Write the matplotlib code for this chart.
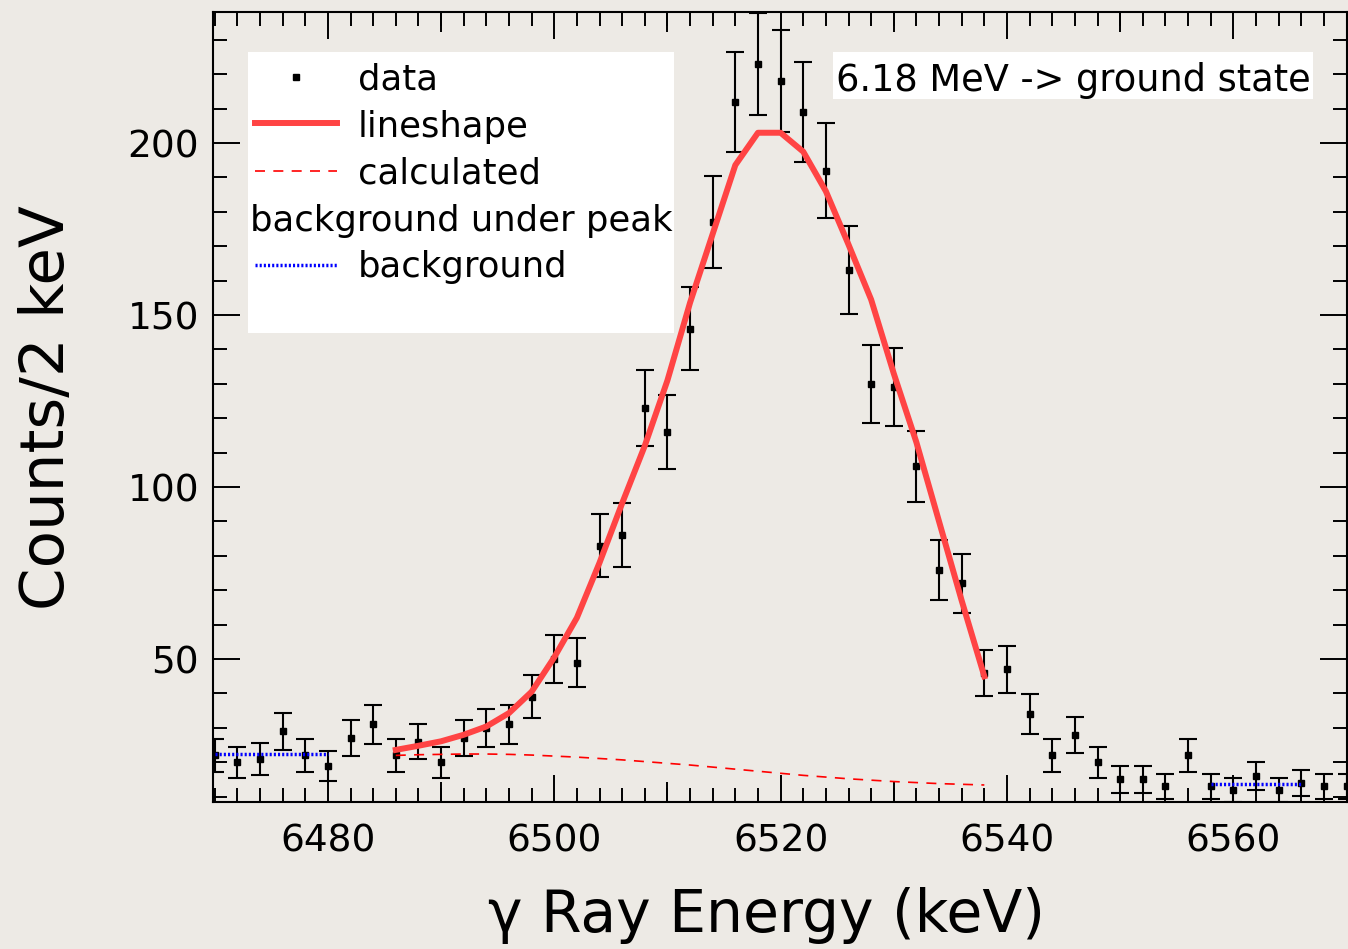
import numpy as np
import matplotlib
matplotlib.use("Agg")
import matplotlib.pyplot as plt
from matplotlib.patches import Rectangle
from matplotlib.lines import Line2D

# measured spectrum, 2 keV bins
energy = list(range(6470, 6571, 2))
counts = [22, 20, 21, 29, 22, 19, 27, 31, 22, 26,
          20, 27, 30, 31, 39, 50, 49, 83, 86, 123,
          116, 146, 177, 212, 223, 218, 209, 192, 163, 130,
          129, 106, 76, 72, 46, 47, 34, 22, 28, 20,
          15, 15, 13, 22, 13, 12, 16, 12, 14, 13, 13]

# fitted lineshape and calculated background under the peak
fit_energy = list(range(6486, 6539, 2))
lineshape = [23.6, 24.8, 26.1, 28.0, 30.4, 34.3, 40.5, 50.5, 62.0, 78.0,
             95.3, 112.0, 131.0, 153.6, 173.6, 193.6, 203.0, 203.0, 197.5, 186.0,
             170.5, 154.5, 133.0, 113.0, 90.0, 67.0, 45.0]
bg_under_peak = [22.0, 22.2, 22.3, 22.4, 22.4, 22.3, 22.1, 21.8, 21.5, 21.1,
                 20.7, 20.2, 19.7, 19.2, 18.6, 18.0, 17.4, 16.8, 16.2, 15.7,
                 15.2, 14.8, 14.4, 14.1, 13.8, 13.6, 13.4]

# flat background regions either side of the peak
bg_left_e = [6470, 6480]
bg_left = [22.4, 22.4]
bg_right_e = [6558, 6566]
bg_right = [13.6, 13.6]

bgcol = "#EDEAE5"
plt.rcParams["font.family"] = ["DejaVu Sans"]

fig = plt.figure(figsize=(13.48, 9.49), dpi=100, facecolor=bgcol)
W, H = 1348, 949
x0, x1, ytop, ybot = 213, 1346.5, 12, 801.5
ax = fig.add_axes([x0 / W, 1 - ybot / H, (x1 - x0) / W, (ybot - ytop) / H])
ax.set_facecolor(bgcol)

err = np.sqrt(counts)
ax.errorbar(energy, counts, yerr=err, fmt="s", color="black", ms=4.8,
            elinewidth=1.5, capsize=6.5, capthick=1.5, zorder=3)
ax.plot(fit_energy, lineshape, color="#FF4444", lw=4.3, zorder=4)
ax.plot(fit_energy, bg_under_peak, color="red", lw=1.2, ls=(0, (6, 5)), zorder=4)
ax.plot(bg_left_e, bg_left, color="blue", lw=2.5, ls=(0, (0.6, 0.6)), zorder=4)
ax.plot(bg_right_e, bg_right, color="blue", lw=2.5, ls=(0, (0.6, 0.6)), zorder=4)

ax.set_xlim(6469.85, 6570)
ax.set_ylim(8.6, 238.1)

for s in ax.spines.values():
    s.set_linewidth(1.5)

ax.set_xticks([6480, 6500, 6520, 6540, 6560])
ax.set_xticks(np.arange(6470, 6571, 2), minor=True)
ax.set_yticks([50, 100, 150, 200])
ax.set_yticks(np.arange(10, 231, 10), minor=True)
ax.tick_params(which="both", direction="in", top=True, right=True, width=1.4)
ax.tick_params(which="major", length=19.5, labelsize=27)
ax.tick_params(which="minor", length=10)
ax.tick_params(axis="x", which="major", pad=16)
ax.tick_params(axis="y", which="major", pad=10)

# medium ticks every 10 keV on bottom and top
for side in ("bottom", "top"):
    sec = ax.secondary_xaxis(side)
    sec.set_xticks([6490, 6510, 6530, 6550])
    sec.tick_params(direction="in", length=14.4, width=1.4,
                    labelbottom=False, labeltop=False)
    for s in sec.spines.values():
        s.set_visible(False)

# legend box
def fx(px):
    return (px - x0) / (x1 - x0)

def fy(py):
    return 1 - (py - ytop) / (ybot - ytop)

ax.add_patch(Rectangle((fx(248), fy(333)), fx(674) - fx(248), fy(52) - fy(333),
                       transform=ax.transAxes, facecolor="white", edgecolor="none",
                       zorder=5))
kw = dict(transform=ax.transAxes, zorder=6)
ax.add_line(Line2D([fx(296)], [fy(76.7)], marker="s", ms=4.8, color="black", **kw))
ax.add_line(Line2D([fx(255), fx(337)], [fy(123.3)] * 2, color="#FF4444", lw=4.3, **kw))
ax.add_line(Line2D([fx(255), fx(337)], [fy(170.7)] * 2, color="red", lw=1.2,
                   ls=(0, (6, 5)), **kw))
ax.add_line(Line2D([fx(255), fx(337)], [fy(265)] * 2, color="blue", lw=2.5,
                   ls=(0, (0.6, 0.6)), **kw))
tkw = dict(transform=ax.transAxes, fontsize=25.5, va="baseline", ha="left", zorder=6)
ax.text(fx(357.7), fy(89.3), "data", **tkw)
ax.text(fx(357.7), fy(136.7), "lineshape", **tkw)
ax.text(fx(357.7), fy(183.3), "calculated", **tkw)
ax.text(fx(250), fy(230.7), "background under peak", **tkw)
ax.text(fx(357.7), fy(277.3), "background", **tkw)

# transition label
ax.add_patch(Rectangle((fx(833), fy(99)), fx(1313) - fx(833), fy(52) - fy(99),
                       transform=ax.transAxes, facecolor="white", edgecolor="none",
                       zorder=5))
ax.text(fx(836), fy(91), "6.18 MeV -> ground state", transform=ax.transAxes,
        fontsize=26.5, va="baseline", ha="left", zorder=6)

fig.text(48 / W, 1 - 408 / H, "Counts/2 keV", rotation=90, fontsize=44,
         ha="center", va="center")
fig.text(767 / W, 1 - 932 / H, "γ Ray Energy (keV)", fontsize=42,
         ha="center", va="baseline")

fig.savefig("out.png", dpi=100, facecolor=bgcol)
